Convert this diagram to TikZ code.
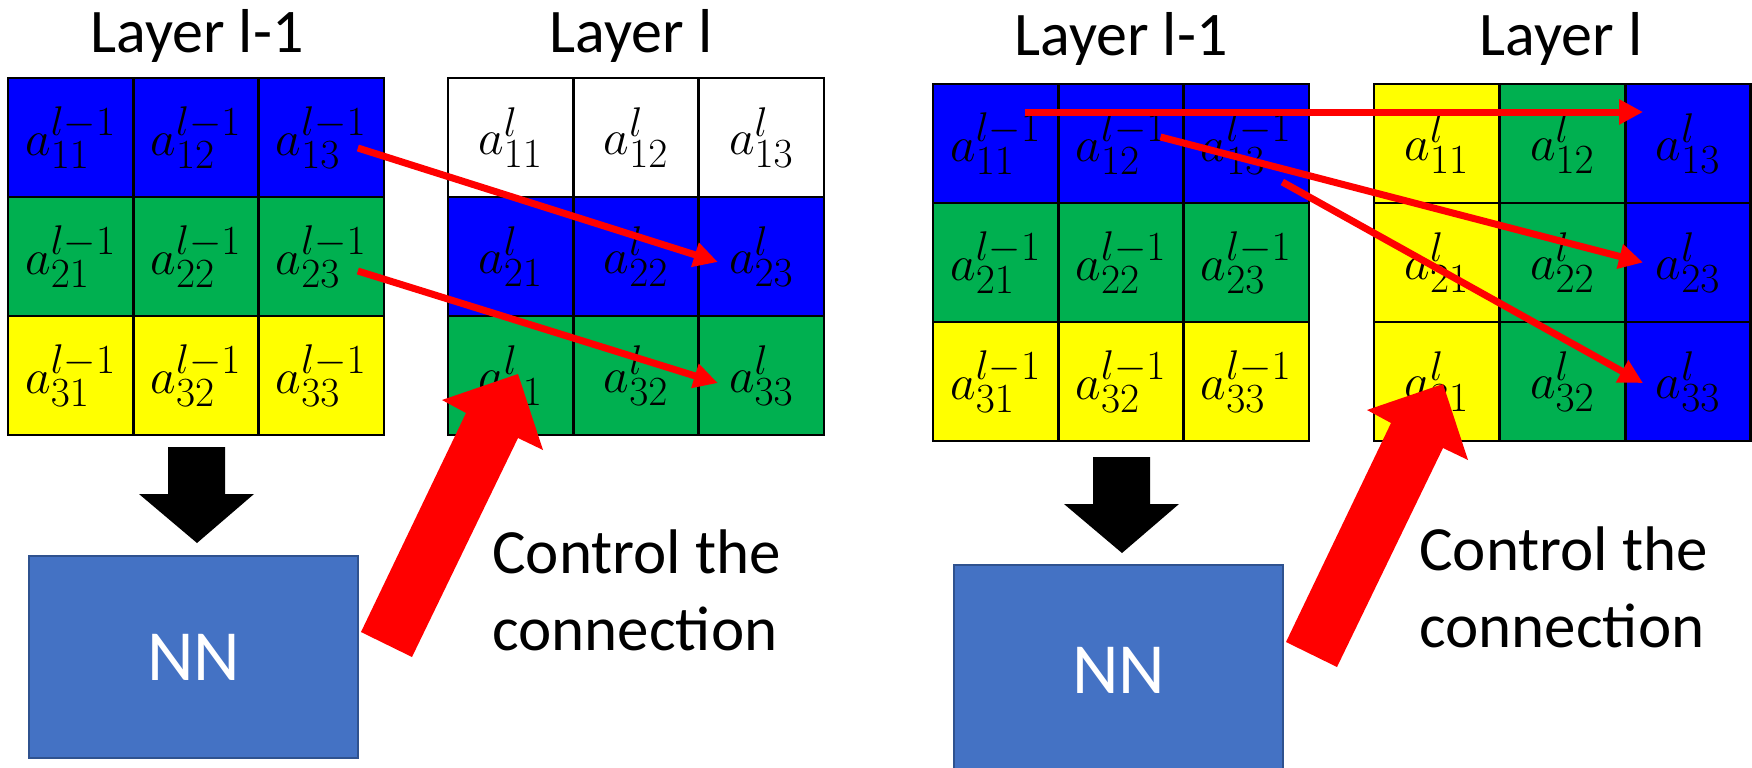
\documentclass[tikz,border=0pt]{standalone}
\usepackage[no-math]{fontspec}
\setmainfont{Carlito}
\usetikzlibrary{arrows.meta,calc}
\definecolor{cblue}{HTML}{0000FF}
\definecolor{cgreen}{HTML}{00B050}
\definecolor{cyellow}{HTML}{FFFF00}
\definecolor{cred}{HTML}{FF0000}
\definecolor{nnfill}{HTML}{4472C4}
\definecolor{nnedge}{HTML}{2F528F}
\begin{document}
\begin{tikzpicture}[x=0.5pt,y=-0.5pt,
  cell/.style={draw=black,line width=1.25pt,minimum width=62.67pt,minimum height=59.5pt,
    inner sep=0pt,outer sep=0pt,font=\fontsize{28}{33}\selectfont},
  title/.style={font=\fontsize{31}{37}\selectfont,anchor=base,inner sep=0pt},
  note/.style={font=\fontsize{31.5}{38.5}\selectfont,anchor=base west,inner sep=0pt,align=left},
  nnbox/.style={draw=nnedge,line width=1pt,fill=nnfill,text=white,inner sep=0pt,
    font=\fontsize{36}{43}\selectfont},
  link/.style={draw=cred,line width=3.5pt,-{Triangle[length=12pt,width=12pt]}},
  bigarrow/.style={fill=cred},
  downarrow/.style={fill=black}]
\useasboundingbox (0,0) rectangle (1752,767);

% ---------- left panel ----------
\node[title] (ta) at (197,52) {Layer l-1};
\node[title] (tb) at (631,52) {Layer l};

\foreach \r/\col in {1/cblue,2/cgreen,3/cyellow}
  \foreach \c in {1,2,3}
    \node[cell,fill=\col] (ga-\r\c) at ({8+125.33*(\c-0.5)},{78+119*(\r-0.5)}) {$a^{l-1}_{\r\c}$};

\foreach \r/\col in {1/white,2/cblue,3/cgreen}
  \foreach \c in {1,2,3}
    \node[cell,fill=\col] (gb-\r\c) at ({448+125.33*(\c-0.5)},{78+119*(\r-0.5)}) {$a^{l}_{\r\c}$};

\draw[link] ($(ga-13.center)+(36.5,10.5)$) -- ($(gb-23.center)+(-43.5,5.5)$);
\draw[link] ($(ga-23.center)+(36.5,14.5)$) -- ($(gb-33.center)+(-43.5,7.5)$);

\fill[downarrow] (168,447) -- (225,447) -- (225,494) -- (254,494) -- (197,543)
  -- (139,494) -- (168,494) -- cycle;

\node[nnbox,minimum width=164.5pt,minimum height=101pt] (nna) at (193.5,657) {NN};

\fill[bigarrow] (361,632) -- (466,413) -- (442,400) -- (518,374) -- (543,450)
  -- (518,438) -- (412,657) -- cycle;

% the base anchor of a two-line node sits on its last line
\node[note] (ca) at (492,650) {Control the\\connection};

% ---------- right panel ----------
\node[title] (tc) at (1121,55) {Layer l-1};
\node[title] (td) at (1561,55) {Layer l};

\foreach \r/\col in {1/cblue,2/cgreen,3/cyellow}
  \foreach \c in {1,2,3}
    \node[cell,fill=\col] (gc-\r\c) at ({933+125.33*(\c-0.5)},{84+119*(\r-0.5)}) {$a^{l-1}_{\r\c}$};

\foreach \c/\col in {1/cyellow,2/cgreen,3/cblue}
  \foreach \r in {1,2,3}
    \node[cell,fill=\col] (gd-\r\c) at ({1374+125.6*(\c-0.5)},{84+119*(\r-0.5)}) {$a^{l}_{\r\c}$};

\draw[link] ($(gc-11.center)+(29.5,-31.5)$) -- ($(gd-13.center)+(-45,-31.5)$);
\draw[link] ($(gc-12.center)+(39.5,-6.5)$) -- ($(gd-23.center)+(-45,0)$);
\draw[link] ($(gc-13.center)+(36,38.5)$) -- ($(gd-33.center)+(-45,1.5)$);

\fill[downarrow] (1093,457) -- (1150,457) -- (1150,504) -- (1179,504) -- (1122,553)
  -- (1064,504) -- (1093,504) -- cycle;

\node[nnbox,minimum width=164.5pt,minimum height=105pt] (nnb) at (1118.5,670) {NN};

\begin{scope}[shift={(925,10)}]
\fill[bigarrow] (361,632) -- (466,413) -- (442,400) -- (518,374) -- (543,450)
  -- (518,438) -- (412,657) -- cycle;
\end{scope}

\node[note] (cb) at (1419,647) {Control the\\connection};
\end{tikzpicture}
\end{document}
